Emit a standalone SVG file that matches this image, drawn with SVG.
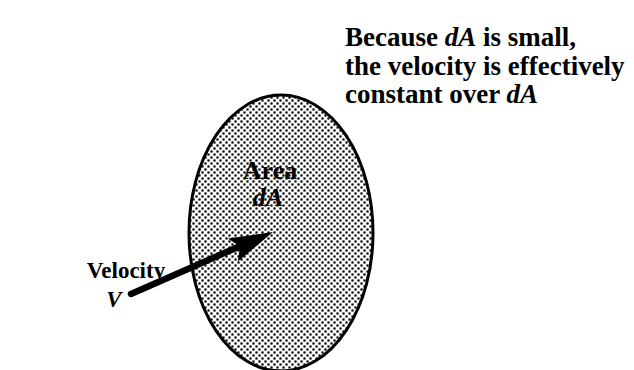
<svg xmlns="http://www.w3.org/2000/svg" width="634" height="370" viewBox="0 0 634 370">
<style>
text{font-family:"Liberation Serif","Times New Roman",serif;font-weight:bold;fill:#000}
.note{font-size:27px}
.lbl{font-size:26px}
.vel{font-size:23px}
.it{font-style:italic}
</style>
<defs>
<pattern id="dots" width="6" height="6" patternUnits="userSpaceOnUse">
<rect width="6" height="6" fill="#fff"/>
<rect x="0.4" y="0.4" width="2.2" height="2.2" fill="#000"/>
<rect x="3.4" y="3.4" width="2.2" height="2.2" fill="#000"/>
</pattern>
</defs>
<rect width="634" height="370" fill="#fff"/>
<g id="area">
<ellipse cx="281" cy="233" rx="92" ry="138" fill="url(#dots)" stroke="#000" stroke-width="3"/>
<text x="270" y="179" text-anchor="middle" class="lbl">Area</text>
<text x="268" y="206" text-anchor="middle" class="lbl it">dA</text>
</g>
<g id="note">
<text x="345" y="46" class="note">Because <tspan class="it">dA</tspan> is small,</text>
<text x="345" y="75" class="note">the velocity is effectively</text>
<text x="345" y="103" class="note">constant over <tspan class="it">dA</tspan></text>
</g>
<g id="velocity">
<text x="126" y="278" text-anchor="middle" class="vel">Velocity</text>
<text x="114" y="307" text-anchor="middle" class="vel it">V</text>
</g>
<g id="connectors">
<line x1="131" y1="294" x2="238" y2="247" stroke="#000" stroke-width="6.5" stroke-linecap="round"/>
<polygon points="0,0 -44,-12 -36,0 -44,13" transform="translate(273,232) rotate(-23.6)" fill="#000"/>
</g>
</svg>
